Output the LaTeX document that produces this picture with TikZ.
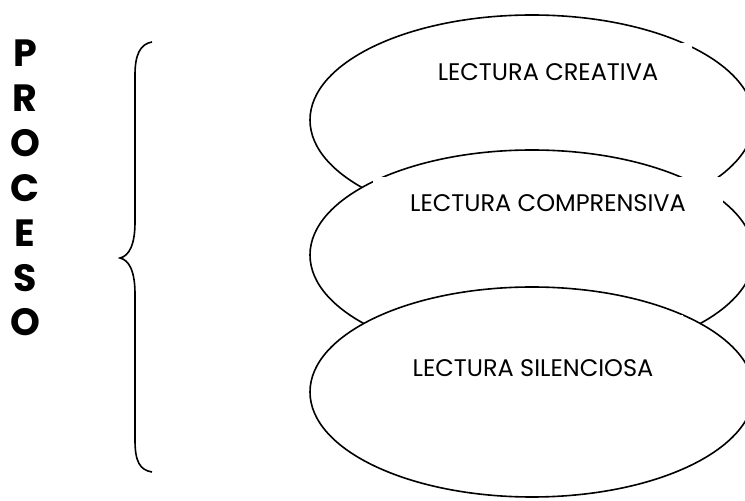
\documentclass[tikz,border=0pt]{standalone}
\usepackage{fontspec}
\setmainfont{Poppins}
\usetikzlibrary{shapes.geometric}

\begin{document}
\begin{tikzpicture}[x=0.5pt,y=-0.5pt,
  elipse/.style={draw,fill=white,ellipse,line width=0.8pt,minimum width=222pt,minimum height=105pt,inner sep=0pt},
  etiqueta/.style={fill=white,anchor=north,inner sep=0pt,font=\fontsize{12}{14}\selectfont},
  letra/.style={font=\fontsize{19}{21}\selectfont\bfseries}]
\useasboundingbox (0,0) rectangle (745,501);
\clip (0,0) rectangle (745,501);

\node[letra] (p) at (25,53) {P};
\node[letra] (r) at (25,98) {R};
\node[letra] (o1) at (25,143) {O};
\node[letra] (c) at (25,188) {C};
\node[letra] (e) at (25,233) {E};
\node[letra] (s) at (25,278) {S};
\node[letra] (o2) at (25,322) {O};

\draw[line width=0.8pt] (152,42) .. controls (140,44) and (135,55) .. (135,75) -- (135,222)
  .. controls (135,245) and (129,256) .. (120,258)
  .. controls (129,260) and (135,271) .. (135,294) -- (135,440)
  .. controls (135,462) and (140,470) .. (152,472);

\node[elipse] (creativa) at (532,120) {};
\node[etiqueta,minimum width=144pt,minimum height=29pt] (t1) at (548,43) {LECTURA CREATIVA};
\node[elipse] (comprensiva) at (532,255) {};
\node[etiqueta,minimum width=175pt,minimum height=26pt] (t2) at (548,177) {LECTURA COMPRENSIVA};
\node[elipse] (silenciosa) at (532,392) {};
\node[etiqueta,minimum width=150pt,minimum height=53pt] (t3) at (533,315) {LECTURA SILENCIOSA};
\end{tikzpicture}
\end{document}
